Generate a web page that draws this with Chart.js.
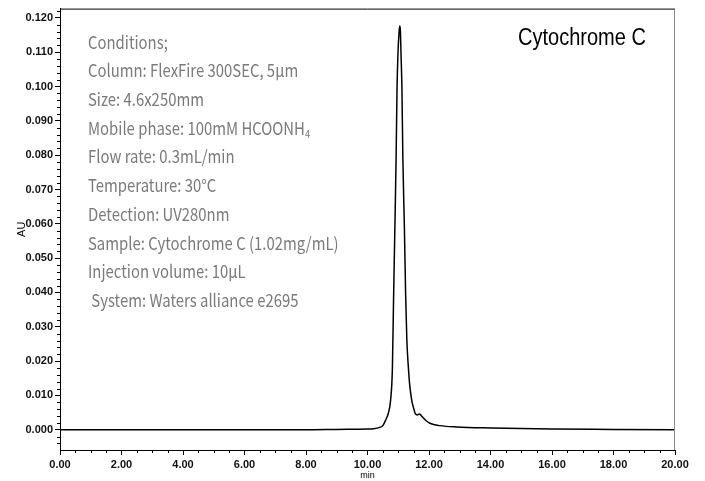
<!DOCTYPE html>
<html>
<head>
<meta charset="utf-8">
<script src="https://cdn.jsdelivr.net/npm/chart.js@4.4.1/dist/chart.umd.min.js"></script>
<style>
  body { margin: 0; background: #fff; }
  #wrap { position: relative; width: 705px; height: 481px; }
  #notes {
    position: absolute; left: 88px; top: 27.6px;
    font-family: "Noto Sans CJK JP", "Noto Sans", sans-serif;
    font-size: 17.5px; line-height: 28.7px; color: #7a7a7a; white-space: pre;
    transform: scaleX(0.85); transform-origin: 0 0;
  }
  #notes sub { font-size: 11px; vertical-align: -3px; line-height: 0; }
  #label {
    position: absolute; left: 518px; top: 24px;
    font-family: "Liberation Sans", Arial, sans-serif;
    font-size: 23px; color: #000; white-space: pre;
    transform: scaleX(0.87); transform-origin: 0 0;
  }
</style>
</head>
<body>
<div id="wrap">
  <canvas id="chart" width="705" height="481"></canvas>
  <div id="notes">Conditions;
Column: FlexFire 300SEC, 5µm
Size: 4.6x250mm
Mobile phase: 100mM HCOONH<sub>4</sub>
Flow rate: 0.3mL/min
Temperature: 30°C
Detection: UV280nm
Sample: Cytochrome C (1.02mg/mL)
Injection volume: 10µL
 System: Waters alliance e2695</div>
  <div id="label">Cytochrome C</div>
</div>
<script>
// retention time (min) and absorbance (AU)
const times = [0, 2, 4, 6, 8, 9, 10.0, 10.2, 10.4, 10.5, 10.6, 10.67, 10.75, 10.81, 10.85, 10.89,
  10.93, 10.96, 10.99, 11.03, 11.05, 11.07, 11.09, 11.12, 11.15, 11.2, 11.24, 11.28, 11.33, 11.37,
  11.44, 11.49, 11.56, 11.62, 11.69, 11.75, 11.81, 11.9, 12.03, 12.36, 12.9, 14, 16, 18, 20];
const absorbance = [0, 0, 0, 0, 0, 0.0001, 0.0002, 0.0003, 0.0007, 0.0012, 0.0030, 0.0046, 0.0085, 0.0181, 0.0394, 0.0587,
  0.0790, 0.0993, 0.1095, 0.1162, 0.1176, 0.1162, 0.1095, 0.0993, 0.0790, 0.0587, 0.0394, 0.0260, 0.0181, 0.0133,
  0.0085, 0.0066, 0.0046, 0.0043, 0.0046, 0.0041, 0.0035, 0.0027, 0.0019, 0.0012, 0.0008, 0.0005, 0.0002, 0.0001, 0];

// axis ranges, labelled ticks and minor tick steps
const xRange = [0, 20];
const yRange = [-0.0059, 0.1227];
const xTicks = [0, 2, 4, 6, 8, 10, 12, 14, 16, 18, 20];
const yTicks = [0, 0.01, 0.02, 0.03, 0.04, 0.05, 0.06, 0.07, 0.08, 0.09, 0.10, 0.11, 0.12];
const xMinor = 0.5, yMinor = 0.002;

const points = times.map((t, i) => ({ x: t, y: absorbance[i] }));

const isMajor = (v, list) => list.some((m) => Math.abs(m - v) < 1e-6);

// frame on top/right plus the short minor tick marks
const framePlugin = {
  id: "frame",
  afterDraw(chart) {
    const { ctx, chartArea: a, scales: { x, y } } = chart;
    ctx.save();
    ctx.lineWidth = 1;
    ctx.strokeStyle = "#000";
    ctx.beginPath();
    ctx.moveTo(a.left, a.top + 0.5);
    ctx.lineTo(a.right, a.top + 0.5);
    ctx.stroke();
    ctx.strokeStyle = "#888";
    ctx.beginPath();
    ctx.moveTo(a.right - 0.5, a.top);
    ctx.lineTo(a.right - 0.5, a.bottom);
    ctx.stroke();

    ctx.strokeStyle = "#000";
    ctx.beginPath();
    for (let k = Math.ceil(yRange[0] / yMinor); k * yMinor <= yRange[1]; k++) {
      const v = k * yMinor;
      if (isMajor(v, yTicks)) continue;
      const py = Math.round(y.getPixelForValue(v)) + 0.5;
      ctx.moveTo(a.left - 3, py);
      ctx.lineTo(a.left, py);
    }
    for (let k = 0; k * xMinor <= xRange[1]; k++) {
      const v = k * xMinor;
      if (isMajor(v, xTicks)) continue;
      const px = Math.round(x.getPixelForValue(v)) + 0.5;
      ctx.moveTo(px, a.bottom);
      ctx.lineTo(px, a.bottom + 3);
    }
    ctx.stroke();
    ctx.restore();
  }
};

const tickFont = { family: "Liberation Sans", size: 11, weight: "bold" };

new Chart(document.getElementById("chart"), {
  type: "line",
  data: {
    datasets: [{
      data: points,
      borderColor: "#000",
      borderWidth: 1.5,
      pointRadius: 0,
      cubicInterpolationMode: "monotone",
      fill: false
    }]
  },
  options: {
    responsive: false,
    animation: false,
    devicePixelRatio: 1,
    layout: { padding: { top: 6, right: 30, left: 0, bottom: 0 } },
    plugins: { legend: { display: false }, tooltip: { enabled: false } },
    scales: {
      x: {
        type: "linear",
        min: xRange[0],
        max: xRange[1],
        afterFit: (s) => { s.height = 31; },
        afterBuildTicks: (s) => { s.ticks = xTicks.map((v) => ({ value: v })); },
        border: { color: "#000", width: 1 },
        grid: { drawOnChartArea: false, tickLength: 5, tickColor: "#000" },
        ticks: {
          padding: 3,
          color: "#111",
          font: tickFont,
          maxRotation: 0,
          autoSkip: false,
          callback: (v) => Number(v).toFixed(2)
        },
        title: { display: true, text: "min", color: "#000", font: { family: "Liberation Sans", size: 9 }, padding: { top: 0, bottom: 0 } }
      },
      y: {
        min: yRange[0],
        max: yRange[1],
        afterFit: (s) => { s.width = 60; },
        afterBuildTicks: (s) => { s.ticks = yTicks.map((v) => ({ value: v })); },
        border: { color: "#000", width: 1 },
        grid: { drawOnChartArea: false, tickLength: 5, tickColor: "#000" },
        ticks: {
          padding: 2,
          color: "#111",
          font: tickFont,
          autoSkip: false,
          callback: (v) => Number(v).toFixed(3)
        },
        title: { display: true, text: "AU", color: "#000", font: { family: "Liberation Sans", size: 11 }, padding: { top: 15, bottom: 0 } }
      }
    }
  },
  plugins: [framePlugin]
});
</script>
</body>
</html>
